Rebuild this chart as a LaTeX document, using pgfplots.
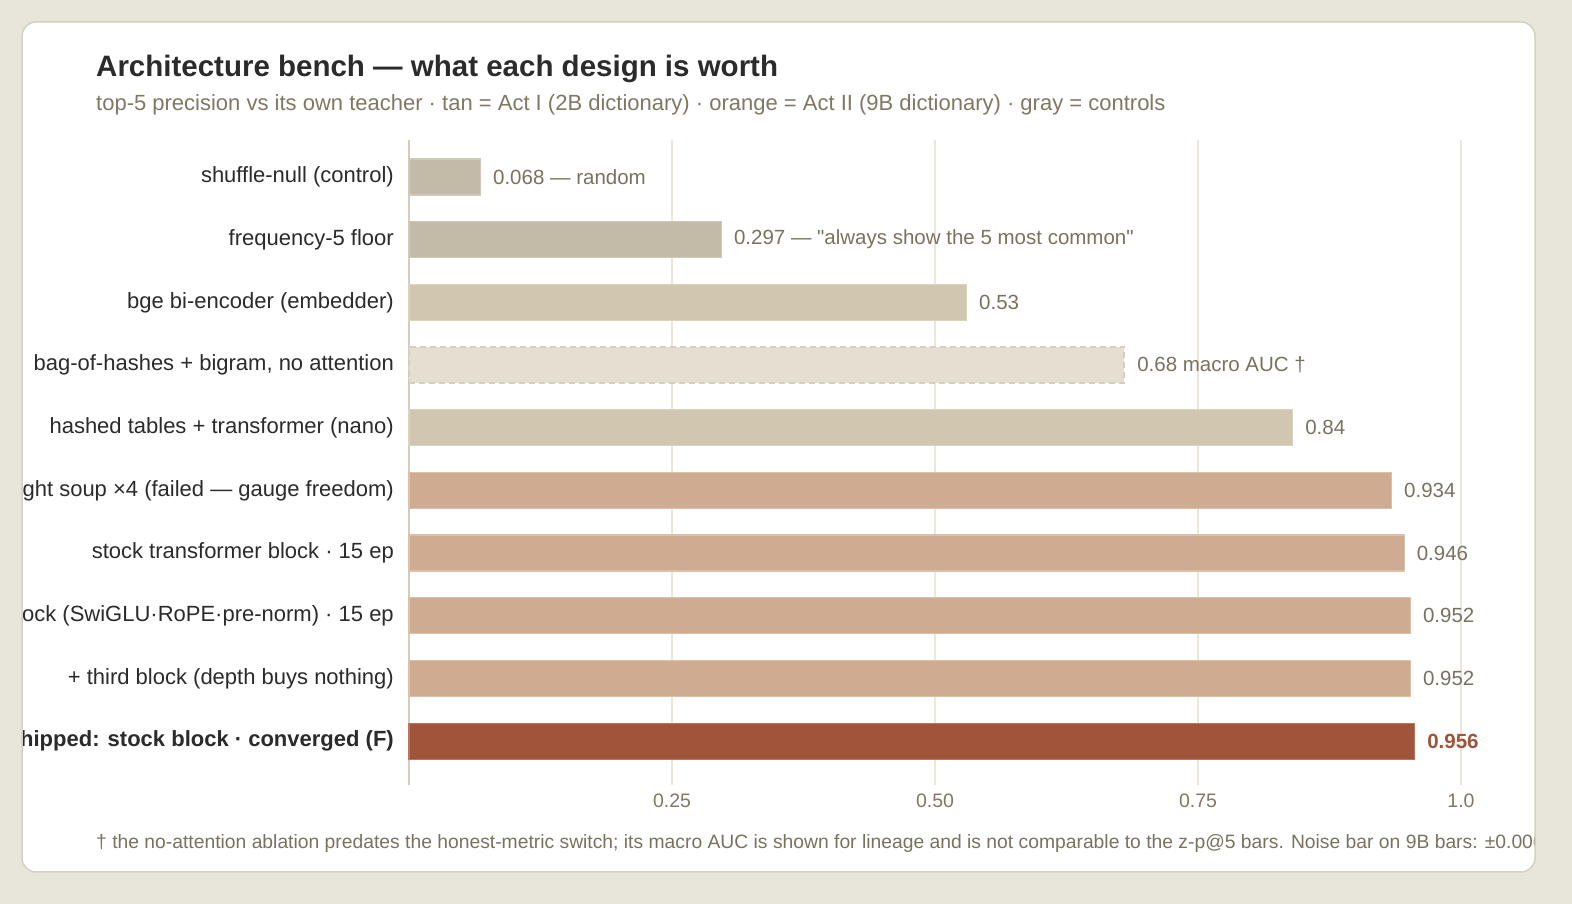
\documentclass[border=0pt]{standalone}
\usepackage{fontspec}
\setmainfont{Liberation Sans}
\usepackage{pgfplots}
\pgfplotsset{compat=1.18}
\definecolor{bgc}{HTML}{E8E5DA}
\definecolor{cardb}{HTML}{D6D0BE}
\definecolor{ctrl}{HTML}{C3BBA8}
\definecolor{ctrlb}{HTML}{CFC9B9}
\definecolor{tan}{HTML}{D1C6AF}
\definecolor{tanb}{HTML}{DBD2C0}
\definecolor{dashf}{HTML}{E4DFD1}
\definecolor{dashb}{HTML}{D6CFBF}
\definecolor{org}{HTML}{CFAC91}
\definecolor{orgb}{HTML}{DDC0AA}
\definecolor{rust}{HTML}{A0543A}
\definecolor{rustb}{HTML}{B8765F}
\definecolor{gridc}{HTML}{ECE7D8}
\definecolor{axisc}{HTML}{D4CDBB}
\definecolor{darkt}{HTML}{2B2B2B}
\definecolor{mutedt}{HTML}{807864}
\definecolor{valt}{HTML}{7A7260}
\newcommand\ft[1]{\fontsize{#1}{#1}\selectfont}
\begin{document}
\begin{tikzpicture}[x=1pt,y=1pt]
\fill[bgc] (0,0) rectangle (1572,904);
\useasboundingbox (0,0) rectangle (1572,904);
\fill[white, rounded corners=14pt] (22,32) rectangle (1535,882);
\begin{scope}
\clip[rounded corners=14pt] (22,32) rectangle (1535,882);
\node[anchor=base west, inner sep=0pt, text=darkt] at (96,827) {\ft{29.5}\bfseries Architecture bench — what each design is worth};
\node[anchor=base west, inner sep=0pt, text=mutedt] at (96,793) {\ft{22}top-5 precision vs its own teacher · tan = Act I (2B dictionary) · orange = Act II (9B dictionary) · gray = controls};
\node[anchor=base west, inner sep=0pt, text=valt] at (96,55) {\ft{19.3}† the no-attention ablation predates the honest-metric switch; its macro AUC is shown for lineage and is not comparable to the z-p@5 bars. Noise bar on 9B bars: ±0.006.};
\begin{axis}[
  at={(409pt,119pt)}, anchor=south west,
  scale only axis, width=1052pt, height=645pt,
  xmin=0, xmax=1, ymin=-0.59, ymax=9.70, y dir=reverse,
  axis line style={draw=none},
  xtick={0.25,0.5,0.75,1},
  xticklabels={\textrm{0.25},\textrm{0.50},\textrm{0.75},\textrm{1.0}},
  xmajorgrids, grid style={color=gridc, line width=1.5pt},
  extra x ticks={0}, extra x tick labels={},
  extra x tick style={grid style={color=axisc, line width=1.5pt}},
  major tick length=0pt,
  ytick={0,...,9},
  yticklabels={{shuffle-null (control)},{frequency-5 floor},{bge bi-encoder (embedder)},{bag-of-hashes + bigram, no attention},{hashed tables + transformer (nano)},{weight soup ×4 (failed — gauge freedom)},{stock transformer block · 15 ep},{modern block (SwiGLU·RoPE·pre-norm) · 15 ep},{+ third block (depth buys nothing)},{\bfseries shipped: stock block · converged (F)}},
  yticklabel style={font=\ft{22}, text=darkt, anchor=east, inner sep=0pt, xshift=-15pt},
  xticklabel style={font=\ft{19.5}, text=mutedt, anchor=north, inner sep=0pt, yshift=-9pt},
  xbar,
  point meta=explicit symbolic,
  nodes near coords,
  nodes near coords style={font=\ft{20.5}, text=valt, anchor=west, inner sep=0pt, xshift=12pt},
  clip=false,
  every axis plot/.append style={bar width=36pt, bar shift=0pt, line width=1.2pt},
]
\addplot[fill=ctrl, draw=ctrlb] coordinates {(0.068,0) [0.068 — random]};
\addplot[fill=ctrl, draw=ctrlb] coordinates {(0.297,1) [0.297 — \textquotedbl always show the 5 most common\textquotedbl]};
\addplot[fill=tan, draw=tanb] coordinates {(0.53,2) [0.53]};
\addplot[fill=dashf, draw=dashb, dash pattern=on 6pt off 4pt, line width=1.8pt] coordinates {(0.68,3) [0.68 macro AUC †]};
\addplot[fill=tan, draw=tanb] coordinates {(0.84,4) [0.84]};
\addplot[fill=org, draw=orgb] coordinates {(0.934,5) [0.934]};
\addplot[fill=org, draw=orgb] coordinates {(0.946,6) [0.946]};
\addplot[fill=org, draw=orgb] coordinates {(0.952,7) [0.952]};
\addplot[fill=org, draw=orgb] coordinates {(0.952,8) [0.952]};
\addplot[fill=rust, draw=rustb, nodes near coords style={font=\ft{20.5}\bfseries, text=rust}] coordinates {(0.956,9) [0.956]};
\end{axis}
\end{scope}
\draw[cardb, line width=1.5pt, rounded corners=14pt] (22,32) rectangle (1535,882);
\end{tikzpicture}
\end{document}
